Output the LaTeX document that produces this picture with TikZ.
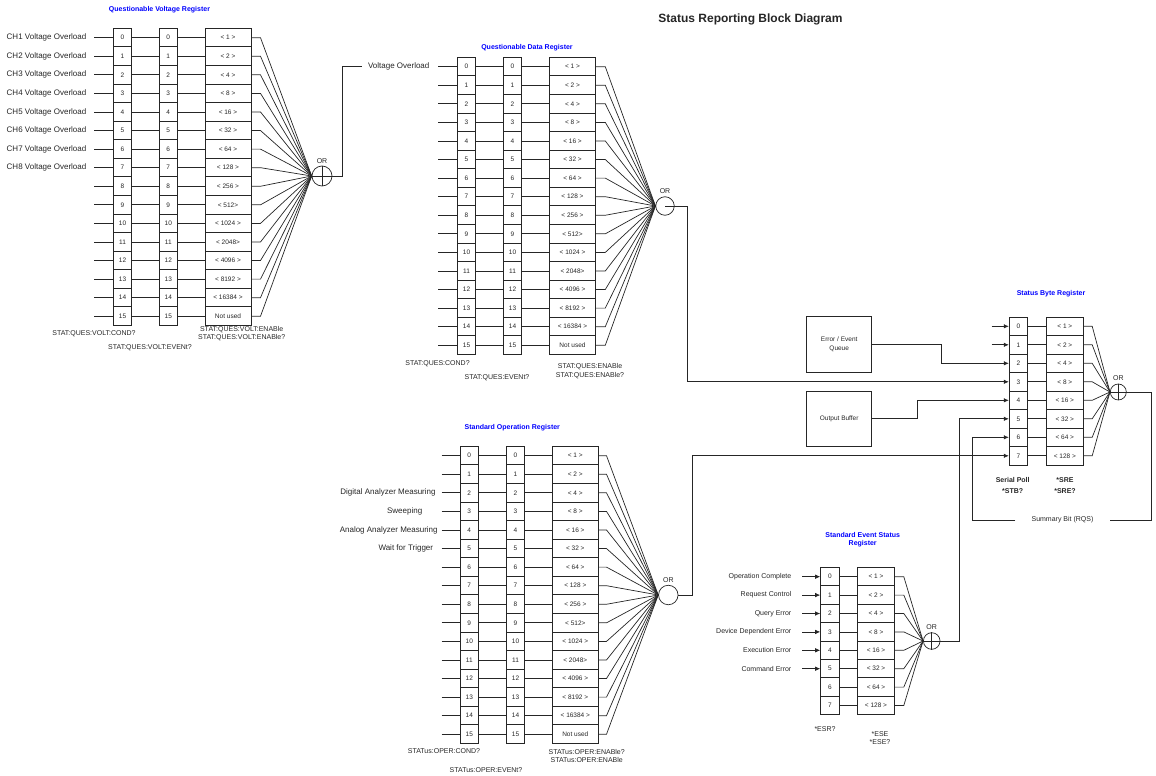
\documentclass[tikz,border=0pt]{standalone}
\usepackage{fontspec}
\setmainfont{Liberation Sans}
\usetikzlibrary{arrows.meta,shapes,positioning}

\def\enlist{0/< 1 >,1/< 2 >,2/< 4 >,3/< 8 >,4/< 16 >,5/< 32 >,6/< 64 >,7/< 128 >,8/< 256 >,9/< 512>,10/< 1024 >,11/< 2048>,12/< 4096 >,13/< 8192 >,14/< 16384 >,15/Not used}

\begin{document}
\begin{tikzpicture}[x=1pt, y=-1pt, line width=0.7pt, draw=black!85, text=black!85,
  cell/.style={draw, line width=1pt, minimum width=18.4pt, minimum height=\d pt, inner sep=0pt, font=\fontsize{6.5}{7}\selectfont},
  encell/.style={cell, minimum width=46pt},
  orgate/.style={draw, circle, inner sep=0pt},
  orname/.style={font=\fontsize{7}{8}\selectfont, inner sep=1pt},
  regname/.style={font=\bfseries\fontsize{7}{8.3}\selectfont, text=blue, align=center},
  lbl/.style={font=\fontsize{8}{9}\selectfont},
  evlbl/.style={font=\fontsize{7}{8}\selectfont, anchor=east},
  cmd/.style={font=\fontsize{7}{8.5}\selectfont, align=center},
  bold/.style={font=\bfseries\fontsize{7}{10.7}\selectfont, align=center},
  srcbox/.style={draw, line width=1pt, minimum width=65pt, minimum height=55.6pt, align=center, font=\fontsize{6.5}{9}\selectfont},
  arr/.style={-{Latex[length=5pt,width=4.5pt]}}]

 \useasboundingbox (0,0) rectangle (1156,776);

 %title
 \node[font=\bfseries\fontsize{12}{14}\selectfont] (main) at (750.5,19.5) {Status Reporting Block Diagram};

 %questionable voltage register
 \def\d{18.57}
 \def\yo{37.7}
 \node[regname] (qv-t) at (159.5,9.5) {Questionable Voltage Register};
    \foreach \i in {0,...,15}{
        \node[cell] (qv-c\i) at (122.5,\yo+\i*\d) {\i};
        \node[cell] (qv-e\i) at (168.3,\yo+\i*\d) {\i};
        \coordinate (qv-in\i) at (94.3,\yo+\i*\d);
    }
    \foreach \i/\num in \enlist{
        \node[encell] (qv-n\i) at (228,\yo+\i*\d) {\num};
    }
    \foreach \i [evaluate=\i as \ch using int(\i+1)] in {0,...,7}{
        \node[lbl, anchor=east] (qv-l\i) at (90,\yo+\i*\d) {CH\ch\ Voltage Overload};
    }
 \node[orgate, minimum size=20pt] (qv-or) at (322,176) {};
 \node[orname, above=1pt of qv-or] (qv-orl) {OR};
 \draw (qv-or.north) -- (qv-or.south) (qv-or.west) -- (qv-or.east);
    \foreach \i in {0,...,15}{
        \draw (qv-in\i) -- (qv-c\i) (qv-c\i) -- (qv-e\i) (qv-e\i) -- (qv-n\i);
        \draw (qv-n\i.east) -- ++(9,0) -- (qv-or.west);
    }
 \node[cmd] (qv-cond) at (94,333.7) {STAT:QUES:VOLT:COND?};
 \node[cmd] (qv-event) at (150,347.7) {STAT:QUES:VOLT:EVENt?};
 \node[cmd] (qv-enable) at (241.7,333.8) {STAT:QUES:VOLT:ENABle\\STAT:QUES:VOLT:ENABle?};

 \node[lbl, inner xsep=6pt] (vo) at (398.7,66) {Voltage Overload};
 \draw (qv-or.east) -- ++(10,0) |- (vo.west);

 %questionable data register
 \def\yo{66.7}
 \node[regname] (qd-t) at (527,48) {Questionable Data Register};
    \foreach \i in {0,...,15}{
        \node[cell] (qd-c\i) at (466.5,\yo+\i*\d) {\i};
        \node[cell] (qd-e\i) at (512.5,\yo+\i*\d) {\i};
        \coordinate (qd-in\i) at (438.3,\yo+\i*\d);
    }
    \foreach \i/\num in \enlist{
        \node[encell] (qd-n\i) at (572.5,\yo+\i*\d) {\num};
    }
 \node[orgate, minimum size=18.5pt] (qd-or) at (665,206) {};
 \node[orname, above=1pt of qd-or] (qd-orl) {OR};
    \foreach \i in {0,...,15}{
        \draw (qd-in\i) -- (qd-c\i) (qd-c\i) -- (qd-e\i) (qd-e\i) -- (qd-n\i);
        \draw (qd-n\i.east) -- ++(9.3,0) -- (qd-or.west);
    }
 \node[cmd] (qd-cond) at (437.5,364) {STAT:QUES:COND?};
 \node[cmd] (qd-event) at (497,378) {STAT:QUES:EVENt?};
 \node[cmd] (qd-enable) at (590,371.2) {STAT:QUES:ENABle\\STAT:QUES:ENABle?};

 %standard operation register
 \def\yo{455.7}
 \node[regname] (so-t) at (512.3,427.3) {Standard Operation Register};
    \foreach \i in {0,...,15}{
        \node[cell] (so-c\i) at (469.3,\yo+\i*\d) {\i};
        \node[cell] (so-e\i) at (515.5,\yo+\i*\d) {\i};
        \coordinate (so-in\i) at (441.7,\yo+\i*\d);
    }
    \foreach \i/\num in \enlist{
        \node[encell] (so-n\i) at (575.3,\yo+\i*\d) {\num};
    }
    \foreach \i/\x/\name in {2/388/Digital Analyzer Measuring, 3/404.7/Sweeping, 4/388.7/Analog Analyzer Measuring, 5/405.8/Wait for Trigger}{
        \node[lbl] (so-l\i) at (\x,\yo+\i*\d) {\name};
    }
 \node[orgate, minimum size=19.5pt] (so-or) at (668.3,595) {};
 \node[orname, above=1pt of so-or] (so-orl) {OR};
    \foreach \i in {0,...,15}{
        \draw (so-in\i) -- (so-c\i) (so-c\i) -- (so-e\i) (so-e\i) -- (so-n\i);
        \draw (so-n\i.east) -- ++(7.7,0) -- (so-or.west);
    }
 \node[cmd] (so-cond) at (444,750.7) {STATus:OPER:COND?};
 \node[cmd] (so-event) at (486,769.7) {STATus:OPER:EVENt?};
 \node[cmd] (so-enable) at (586.7,755.9) {STATus:OPER:ENABle?\\STATus:OPER:ENABle};

 %status byte register
 \def\d{18.5}
 \def\yo{326.3}
 \node[regname] (sb-t) at (1051,294) {Status Byte Register};
    \foreach \i/\num in {0/< 1 >,1/< 2 >,2/< 4 >,3/< 8 >,4/< 16 >,5/< 32 >,6/< 64 >,7/< 128 >}{
        \node[cell, minimum width=18pt] (sb-c\i) at (1018.3,\yo+\i*\d) {\i};
        \node[cell, minimum width=37pt] (sb-n\i) at (1064.8,\yo+\i*\d) {\num};
    }
 \node[orgate, minimum size=16pt] (sb-or) at (1118.3,392) {};
 \node[orname, above=1.5pt of sb-or] (sb-orl) {OR};
 \draw (sb-or.north) -- (sb-or.south) (sb-or.west) -- (sb-or.east);
    \foreach \i in {0,...,7}{
        \draw (sb-c\i) -- (sb-n\i);
        \draw (sb-n\i.east) -- ++(8.4,0) -- (sb-or.west);
    }
    \foreach \i in {0,1}{
        \coordinate (sb-in\i) at (991.7,\yo+\i*\d);
        \draw[arr] (sb-in\i) -- (sb-c\i);
    }
 \node[bold] (sb-stb) at (1012.7,485.3) {Serial Poll\\*STB?};
 \node[bold] (sb-sre) at (1065,485.3) {*SRE\\*SRE?};

 \node[srcbox] (eeq) at (839.2,344.5) {Error / Event\\Queue};
 \node[srcbox] (ob) at (839.2,418.8) {Output Buffer};
 \draw[arr] (eeq.east) -- ++(69.3,0) |- (sb-c2.west);
 \draw[arr] (ob.east) -- ++(45.6,0) |- (sb-c4.west);

 \node[font=\fontsize{7}{8}\selectfont, inner xsep=15.8pt] (rqs) at (1062.5,520) {Summary Bit (RQS)};
 \draw (sb-or.east) -- ++(24.7,0) |- (rqs.east);
 \draw[arr] (rqs.west) -- ++(-42.7,0) |- (sb-c6.west);

 %standard event status register
 \def\d{18.4}
 \def\yo{576.7}
 \node[regname] (se-t) at (862.7,540) {Standard Event Status\\Register};
    \foreach \i/\num in {0/< 1 >,1/< 2 >,2/< 4 >,3/< 8 >,4/< 16 >,5/< 32 >,6/< 64 >,7/< 128 >}{
        \node[cell, minimum width=18.6pt] (se-c\i) at (830,\yo+\i*\d) {\i};
        \node[cell, minimum width=36.6pt] (se-n\i) at (876,\yo+\i*\d) {\num};
    }
    \foreach \i/\name in {0/Operation Complete, 1/Request Control, 2/Query Error, 3/Device Dependent Error, 4/Execution Error, 5/Command Error}{
        \node[evlbl] (se-l\i) at (795,\yo+\i*\d) {\name};
        \coordinate (se-in\i) at (802.3,\yo+\i*\d);
        \draw[arr] (se-in\i) -- (se-c\i);
    }
 \node[orgate, minimum size=16.6pt] (se-or) at (931.7,641) {};
 \node[orname, above=1.5pt of se-or] (se-orl) {OR};
 \draw (se-or.north) -- (se-or.south) (se-or.west) -- (se-or.east);
    \foreach \i in {0,...,7}{
        \draw (se-c\i) -- (se-n\i);
        \draw (se-n\i.east) -- ++(9,0) -- (se-or.west);
    }
 \node[cmd] (se-esr) at (825,729) {*ESR?};
 \node[cmd, font=\fontsize{7}{8}\selectfont] (se-ese) at (880,738.3) {*ESE\\*ESE?};

 %summary links into the status byte
 \draw[arr] (qd-or.center) -- (687.7,206) |- (sb-c3.west);
 \draw[arr] (so-or.east) -- (692.7,595) |- (sb-c7.west);
 \draw[arr] (se-or.east) -- ++(19.3,0) |- (sb-c5.west);

\end{tikzpicture}
\end{document}
